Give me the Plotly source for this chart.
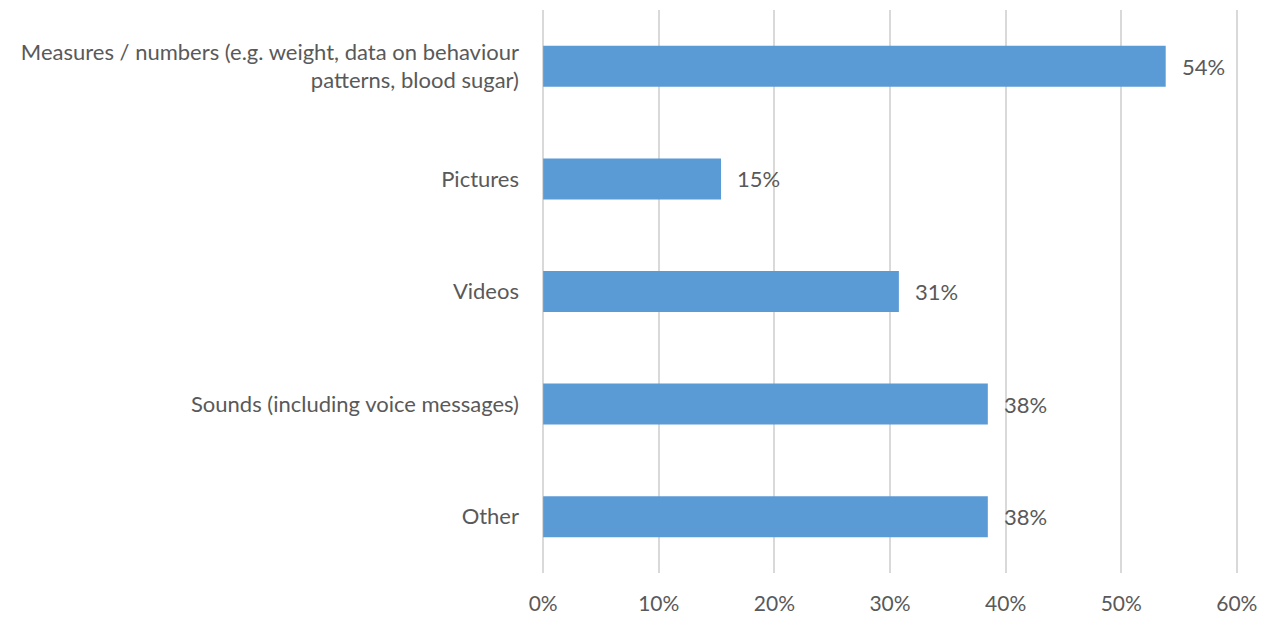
import plotly.graph_objects as go

# Share of respondents by type of data shared
categories = [
    "Measures / numbers (e.g. weight, data on behaviour<br>patterns, blood sugar)",
    "Pictures",
    "Videos",
    "Sounds (including voice messages)",
    "Other",
]
shares = [7 / 13, 2 / 13, 4 / 13, 5 / 13, 5 / 13]
x_ticks = [0, 0.1, 0.2, 0.3, 0.4, 0.5, 0.6]

TEXT = "#595959"
FONT = "Lato, 'Open Sans', sans-serif"
SIZE = 22

fig = go.Figure(
    go.Bar(
        x=shares,
        y=categories,
        orientation="h",
        marker=dict(color="#5B9BD5", line=dict(width=0)),
        hoverinfo="skip",
    )
)

for cat, v in zip(categories, shares):
    fig.add_annotation(
        x=v, y=cat, text=f"{v:.0%}", showarrow=False,
        xanchor="left", xshift=14, font=dict(size=SIZE, color=TEXT, family=FONT),
    )

fig.update_layout(
    width=1266, height=617,
    margin=dict(l=542, r=28, t=10, b=44),
    paper_bgcolor="white", plot_bgcolor="white",
    bargap=0.636,
    showlegend=False,
    font=dict(family=FONT, size=SIZE, color=TEXT),
    xaxis=dict(
        range=[-0.001, 0.601], tickvals=x_ticks, tickformat=".0%",
        tickfont=dict(size=21),
        showgrid=True, gridcolor="#D9D9D9", gridwidth=2,
        zeroline=False, showline=False, ticks="",
        ticklabelstandoff=16, automargin=False,
    ),
    yaxis=dict(
        autorange="reversed", showgrid=False, zeroline=False,
        showline=False, ticks="", ticklabelstandoff=22, automargin=False,
    ),
)

fig.write_html("out.html")
